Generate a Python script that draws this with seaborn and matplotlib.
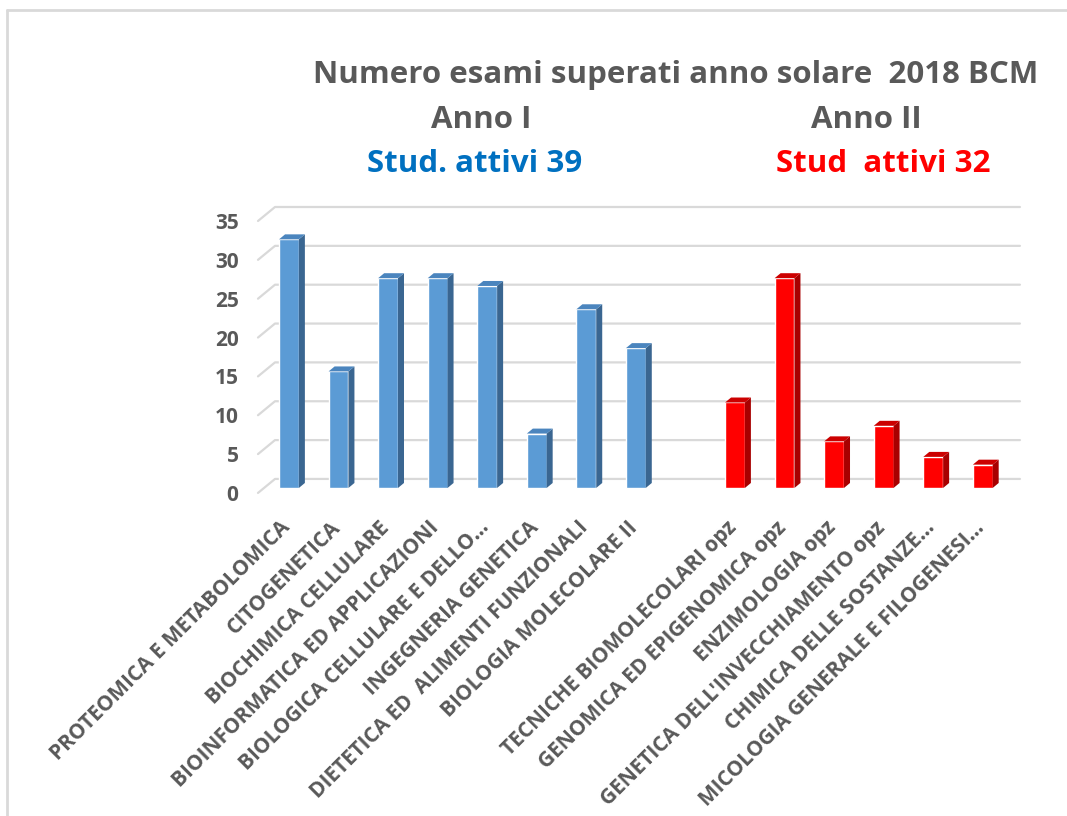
import matplotlib
matplotlib.use("Agg")
import matplotlib.pyplot as plt
from matplotlib.patches import Polygon
from matplotlib.lines import Line2D
from matplotlib.transforms import ScaledTranslation
import numpy as np
import pandas as pd
import seaborn as sns

# dati
corsi_1 = ["PROTEOMICA E METABOLOMICA", "CITOGENETICA", "BIOCHIMICA CELLULARE",
           "BIOINFORMATICA ED APPLICAZIONI", "BIOLOGICA CELLULARE E DELLO\u2026",
           "INGEGNERIA GENETICA", "DIETETICA ED  ALIMENTI FUNZIONALI",
           "BIOLOGIA MOLECOLARE II"]
esami_1 = [32, 15, 27, 27, 26, 7, 23, 18]
corsi_2 = ["TECNICHE BIOMOLECOLARI opz", "GENOMICA ED EPIGENOMICA opz",
           "ENZIMOLOGIA opz", "GENETICA DELL'INVECCHIAMENTO opz",
           "CHIMICA DELLE SOSTANZE\u2026", "MICOLOGIA GENERALE E FILOGENESI\u2026"]
esami_2 = [11, 27, 6, 8, 4, 3]
y_ticks = [0, 5, 10, 15, 20, 25, 30, 35]

fronte = {"Anno I": "#5B9BD5", "Anno II": "#FF0000"}
lato = {"Anno I": "#3A6691", "Anno II": "#A80000"}
cima = {"Anno I": "#4B85BE", "Anno II": "#CC0000"}

order = corsi_1 + [" "] + corsi_2
df = pd.DataFrame({
    "corso": order,
    "esami": esami_1 + [np.nan] + esami_2,
    "anno": ["Anno I"] * (len(corsi_1) + 1) + ["Anno II"] * len(corsi_2),
})

sns.set_theme(style="white")
plt.rcParams["font.family"] = ["Open Sans", "DejaVu Sans"]
grigio = "#595959"

fig = plt.figure(figsize=(10.67, 8.16), dpi=100)
ax = fig.add_axes([0.2418, 0.3944, 0.7141, 0.3542])

sns.barplot(data=df, x="corso", y="esami", hue="anno", order=order,
            hue_order=["Anno I", "Anno II"], palette=fronte, width=0.4,
            saturation=1, legend=False, ax=ax, zorder=3)

ax.set_xlim(-0.625, 14.75)
ax.set_ylim(-0.8, 36.4)

# finto 3D: lato e cima delle barre
dx, dy = 0.121, 0.64
for p in list(ax.patches):
    h = p.get_height()
    if not np.isfinite(h) or h <= 0:
        continue
    x, w = p.get_x(), p.get_width()
    anno = "Anno I" if p.get_facecolor()[2] > 0.5 else "Anno II"
    ax.add_patch(Polygon([(x + w, 0), (x + w + dx, dy), (x + w + dx, h + dy), (x + w, h)],
                         closed=True, facecolor=lato[anno], edgecolor="none", zorder=3))
    ax.add_patch(Polygon([(x, h), (x + dx, h + dy), (x + w + dx, h + dy), (x + w, h)],
                         closed=True, facecolor=cima[anno], edgecolor="none", zorder=3))

# griglia sulla parete di fondo
front_off, back_off = -0.64, 1.16
x0, slant = -0.625, 0.343
for v in y_ticks:
    ax.plot([x0, x0 + slant, 14.75], [v + front_off, v + back_off, v + back_off],
            color="#D9D9D9", lw=1.6, zorder=1, clip_on=False)

ax.set_yticks([v + front_off for v in y_ticks], labels=[str(v) for v in y_ticks])
ax.set_xticks(range(len(order)))
ax.set_xticklabels(order, rotation=45, ha="right", rotation_mode="anchor")
ax.tick_params(axis="y", length=0, pad=14, labelsize=15, labelcolor=grigio)
ax.tick_params(axis="x", length=0, pad=18, labelsize=15, labelcolor=grigio)
shift = ScaledTranslation(-9 / 100, 2 / 100, fig.dpi_scale_trans)
for lab in ax.get_xticklabels():
    lab.set_fontweight("bold")
    lab.set_transform(lab.get_transform() + shift)
for lab in ax.get_yticklabels():
    lab.set_fontweight("bold")
ax.set_xlabel("")
ax.set_ylabel("")
for s in ax.spines.values():
    s.set_visible(False)

W, H = 1067, 816
fs = 22.5
fig.text(676 / W, 1 - 75 / H, "Numero esami superati anno solare  2018 BCM",
         ha="center", va="center", fontsize=fs, fontweight="bold", color=grigio)
fig.text(481 / W, 1 - 120 / H, "Anno I", ha="center", va="center",
         fontsize=fs, fontweight="bold", color=grigio)
fig.text(866 / W, 1 - 120 / H, "Anno II", ha="center", va="center",
         fontsize=fs, fontweight="bold", color=grigio)
fig.text(475 / W, 1 - 164 / H, "Stud. attivi 39", ha="center", va="center",
         fontsize=fs, fontweight="bold", color="#0070C0")
fig.text(883 / W, 1 - 164 / H, "Stud  attivi 32", ha="center", va="center",
         fontsize=fs, fontweight="bold", color="#FF0000")

# bordo del riquadro
fig.add_artist(Line2D([7 / W, 1], [1 - 10 / H, 1 - 10 / H], transform=fig.transFigure,
                      color="#D9D9D9", lw=2))
fig.add_artist(Line2D([7 / W, 7 / W], [0, 1 - 10 / H], transform=fig.transFigure,
                      color="#D9D9D9", lw=2))

fig.savefig("out.png", dpi=100)
